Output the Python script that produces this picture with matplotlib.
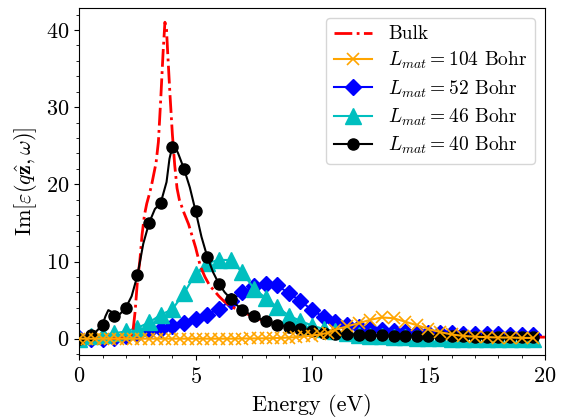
import numpy as np
import matplotlib
matplotlib.use('Agg')
import matplotlib.pyplot as plt

plt.rcParams['font.family'] = 'serif'
plt.rcParams['font.serif'] = ['cmr10']
plt.rcParams['mathtext.fontset'] = 'cm'
plt.rcParams['axes.formatter.use_mathtext'] = True
plt.rcParams['axes.unicode_minus'] = False

# bulk (no markers)
bulk_e = [0, 0.5, 1.0, 1.5, 2.0, 2.2, 2.3, 2.4, 2.5, 2.6, 2.7, 2.8, 2.9, 3.0, 3.1, 3.2,
          3.3, 3.4, 3.5, 3.6, 3.68, 3.75, 3.8, 3.9, 4.0, 4.1, 4.2, 4.3, 4.5, 4.7, 4.9,
          5.0, 5.2, 5.4, 5.6, 5.8, 6.0, 6.2, 6.5, 7.0, 7.5, 8.0, 8.5, 9.0, 9.5, 10.0,
          10.5, 11.0, 12.0, 13.0, 14.0, 15.0, 16.0, 17.0, 18.0, 19.0, 20.0]
bulk = [0, 0, 0, 0, 0.1, 0.3, 0.8, 3.5, 7.5, 10.0, 13.5, 16.0, 17.5, 18.6, 19.8, 21.3,
        22.8, 25.5, 31.0, 37.0, 41.0, 40.0, 37.0, 31.5, 26.5, 22.5, 19.5, 18.0, 16.3, 14.8, 12.8,
        11.8, 9.4, 8.0, 6.9, 6.2, 5.5, 4.9, 4.2, 3.5, 2.8, 2.2, 1.8, 1.45, 1.15, 0.9,
        0.72, 0.6, 0.45, 0.4, 0.35, 0.3, 0.3, 0.25, 0.2, 0.2, 0.2]

# L_mat = 104 Bohr
l104_e = [0, 0.33, 0.67, 1.0, 1.33, 1.67, 2.0, 2.33, 2.67, 3.0, 3.33, 3.67, 4.0, 4.33, 4.67,
          5.0, 5.33, 5.67, 6.0, 6.33, 6.67, 7.0, 7.33, 7.67, 8.0, 8.33, 8.67, 9.0, 9.33,
          9.67, 10.0, 10.33, 10.67, 11.0, 11.5, 12.0, 12.5, 13.0, 13.5, 14.0, 14.5, 15.0,
          15.5, 16.0, 16.5, 17.0, 17.5, 18.0, 18.5, 19.0, 19.5]
l104 = [0, 0, 0, 0, 0, 0, 0, 0, 0, 0, 0, 0, 0, 0, 0,
        0, 0, 0, 0, 0, 0, 0.02, 0.03, 0.04, 0.05, 0.07, 0.1, 0.15, 0.2,
        0.3, 0.4, 0.55, 0.75, 1.15, 1.6, 2.0, 2.45, 2.75, 2.65, 2.2, 1.75, 1.25,
        0.85, 0.55, 0.35, 0.25, 0.2, 0.15, 0.15, 0.1, 0.1]

# L_mat = 52 Bohr
l52_e = [0, 0.5, 1.0, 1.5, 2.0, 2.5, 3.0, 3.5, 4.0, 4.5, 5.0, 5.5, 6.0, 6.5, 7.0, 7.5, 8.0,
         8.5, 9.0, 9.5, 10.0, 10.5, 11.0, 11.5, 12.0, 12.5, 13.0, 13.5, 14.0, 14.5, 15.0,
         15.5, 16.0, 16.5, 17.0, 17.5, 18.0, 18.5, 19.0, 19.5]
l52 = [0.1, 0.0, 0.0, 0.1, 0.3, 0.6, 1.0, 1.3, 1.6, 2.0, 2.5, 3.1, 3.9, 4.9, 6.0, 6.8, 7.1,
       6.9, 5.9, 4.9, 3.7, 2.8, 2.2, 1.8, 1.5, 1.3, 1.1, 1.0, 0.9, 0.85, 0.8,
       0.75, 0.7, 0.65, 0.6, 0.6, 0.55, 0.5, 0.5, 0.5]

# L_mat = 46 Bohr
l46_e = l52_e
l46 = [0.0, 0.3, 0.5, 0.7, 0.95, 1.4, 2.1, 3.1, 3.8, 5.9, 8.4, 9.8, 10.2, 10.2, 8.6, 6.5, 5.3,
       4.1, 3.0, 2.3, 1.7, 1.25, 0.95, 0.7, 0.5, 0.4, 0.3, 0.25, 0.2, 0.15, 0.1,
       0.05, 0.0, 0.0, -0.05, -0.05, -0.1, -0.1, -0.1, -0.1]

# L_mat = 40 Bohr (finer points where the curve wiggles)
l40_e = [0, 0.25, 0.5, 0.75, 1.0, 1.125, 1.25, 1.375, 1.5, 1.75, 2.0, 2.25, 2.5, 2.75, 3.0,
         3.25, 3.5, 3.75, 3.875, 4.0, 4.125, 4.25, 4.5, 4.75, 5.0, 5.25, 5.5, 5.75, 6.0,
         6.25, 6.5, 6.75, 7.0, 7.25, 7.5, 7.75, 8.0, 8.5, 9.0, 9.5, 10.0, 10.5, 11.0,
         11.5, 12.0, 12.5, 13.0, 13.5, 14.0, 14.5, 15.0, 15.5, 16.0, 16.5, 17.0, 17.5,
         18.0, 18.5, 19.0, 19.5]
l40 = [0.0, 0.2, 0.5, 1.0, 1.8, 2.9, 3.7, 3.5, 2.9, 3.2, 4.0, 5.5, 8.2, 12.3, 15.0,
       16.8, 17.6, 20.3, 23.3, 24.9, 24.8, 24.0, 22.0, 19.6, 16.5, 13.2, 10.6, 8.6, 7.1,
       6.0, 5.2, 4.4, 3.75, 3.3, 2.9, 2.6, 2.3, 1.8, 1.5, 1.2, 0.95, 0.75, 0.65,
       0.55, 0.5, 0.45, 0.42, 0.4, 0.38, 0.35, 0.33, 0.3, 0.3, 0.3, 0.28, 0.28,
       0.25, 0.25, 0.25, 0.25]

fig = plt.figure(figsize=(5.7, 4.19), dpi=100)
ax = fig.add_axes([0.139, 0.153, 0.817, 0.828])

ax.plot(bulk_e, bulk, color='red', linestyle='-.', linewidth=2, label='Bulk', zorder=3)
ax.plot(l104_e, l104, color='orange', marker='x', markersize=8, markeredgewidth=1.2,
        linewidth=1.5, label=r'$L_{mat}=104$ Bohr', zorder=6)
ax.plot(l52_e, l52, color='blue', marker='D', markersize=8.5, linewidth=1.5,
        label=r'$L_{mat}=52$ Bohr', zorder=2)
ax.plot(l46_e, l46, color='c', marker='^', markersize=11, linewidth=1.5,
        label=r'$L_{mat}=46$ Bohr', zorder=2.5)
e40 = np.array(l40_e)
marks = list(np.where(np.isclose(e40 * 2, np.round(e40 * 2)))[0])
ax.plot(l40_e, l40, color='black', marker='o', markersize=8, markevery=marks,
        linewidth=1.5, label=r'$L_{mat}=40$ Bohr', zorder=4)

ax.set_xlim(0, 20)
ax.set_ylim(-2.1, 42.85)
ax.set_xticks([0, 5, 10, 15, 20])
ax.set_yticks([0, 10, 20, 30, 40])
ax.xaxis.set_minor_locator(matplotlib.ticker.MultipleLocator(1))
ax.yaxis.set_minor_locator(matplotlib.ticker.MultipleLocator(2))
ax.tick_params(labelsize=16)
ax.tick_params(axis='x', pad=5)
ax.set_xlabel('Energy (eV)', fontsize=16, labelpad=5)
ax.set_ylabel(r'$\mathrm{Im}[\varepsilon(q\hat{\mathbf{z}},\omega)]$', fontsize=16, labelpad=5)

ax.legend(loc='upper right', fontsize=14, borderaxespad=0.5, labelspacing=0.35)

fig.savefig('out.png', dpi=100)
